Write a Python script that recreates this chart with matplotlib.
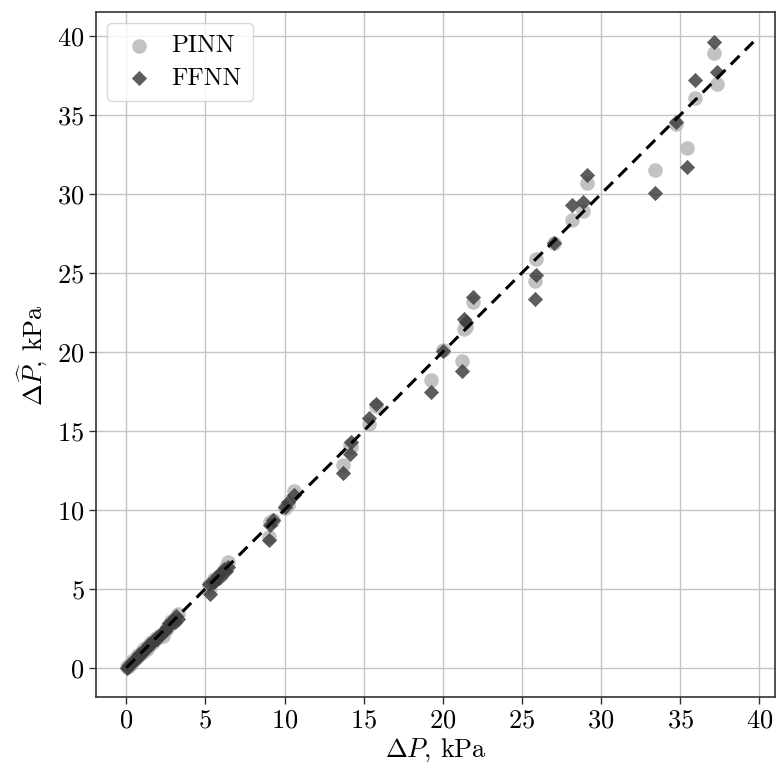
import matplotlib.pyplot as plt
import numpy as np

# valeurs (kPa)
dp_true = [37.12, 37.29, 35.94, 34.75, 35.42, 33.38, 29.08, 28.85, 28.17, 27.00,
           25.88, 25.84, 21.93, 21.34, 21.46, 20.03, 21.18, 19.27, 15.78, 15.35,
           14.20, 14.14, 13.72, 10.58, 10.20, 10.00, 9.30, 9.05, 9.00,
           6.45, 6.30, 6.15, 6.00, 5.85, 5.70, 5.55, 5.45, 5.30, 5.20,
           3.25, 3.15, 3.05, 2.95, 2.85, 2.70, 2.60, 2.45, 2.35,
           2.15, 2.05, 1.95, 1.85, 1.75, 1.65, 1.55, 1.45, 1.35, 1.28, 1.20,
           1.12, 1.05, 0.98, 0.90, 0.83, 0.75, 0.68, 0.60, 0.52, 0.45, 0.38,
           0.30, 0.22, 0.15, 0.08, 0.02]
pinn_pred = [38.94, 36.95, 36.10, 34.42, 32.92, 31.52, 30.68, 28.92, 28.32, 26.90,
             25.86, 24.51, 23.18, 21.44, 21.60, 20.12, 19.40, 18.20, 16.60, 15.40,
             14.00, 14.10, 12.85, 11.20, 10.30, 10.10, 9.32, 9.20, 8.30,
             6.72, 6.35, 6.20, 5.90, 5.80, 5.65, 5.60, 5.50, 5.05, 5.25,
             3.40, 3.20, 3.05, 2.90, 2.95, 2.70, 2.50, 2.30, 2.00,
             2.10, 1.95, 1.90, 1.85, 1.70, 1.55, 1.60, 1.40, 1.40, 1.20, 1.25,
             1.05, 1.10, 0.95, 0.95, 0.80, 0.80, 0.65, 0.62, 0.55, 0.40, 0.42,
             0.25, 0.25, 0.12, 0.10, 0.05]
ffnn_pred = [39.62, 37.72, 37.22, 34.52, 31.68, 30.04, 31.18, 29.50, 29.30, 26.88,
             24.87, 23.37, 23.45, 22.10, 21.90, 20.08, 18.80, 17.45, 16.70, 15.80,
             14.26, 13.50, 12.30, 10.95, 10.50, 10.20, 9.35, 9.05, 8.06,
             6.40, 6.10, 6.25, 6.00, 5.70, 5.80, 5.45, 5.40, 4.65, 5.30,
             3.10, 3.25, 2.90, 3.00, 2.75, 2.80, 2.55, 2.35, 2.25,
             2.05, 2.00, 1.80, 1.90, 1.75, 1.60, 1.50, 1.50, 1.30, 1.30, 1.15,
             1.15, 1.00, 1.00, 0.85, 0.85, 0.70, 0.70, 0.55, 0.50, 0.45, 0.35,
             0.30, 0.20, 0.15, 0.05, -0.05]

plt.rcParams['font.family'] = 'serif'
plt.rcParams['font.serif'] = ['cmr10']
plt.rcParams['mathtext.fontset'] = 'cm'
plt.rcParams['axes.formatter.use_mathtext'] = True

fig = plt.figure(figsize=(7.76, 7.65), dpi=100)
ax = fig.add_axes([0.124, 0.089, 0.875, 0.895])

ax.grid(True, color='#c4c4c4', linewidth=1.0, zorder=0)
ax.set_axisbelow(True)

ax.scatter(dp_true, pinn_pred, s=110, marker='o', color='#bcbcbc', alpha=0.9,
           linewidths=0, label='PINN', zorder=2)
ax.scatter(dp_true, ffnn_pred, s=60, marker='D', color='#404040', alpha=0.85,
           linewidths=0, label='FFNN', zorder=3)

# droite y = x
hi = max(max(dp_true), max(pinn_pred), max(ffnn_pred))
ax.plot([0, hi], [0, hi], color='black', linestyle='--', linewidth=2.2,
        dashes=(4, 2.5), zorder=4)

ax.set_xlim(-1.9, 41.0)
ax.set_ylim(-1.85, 41.5)
ax.set_xticks(np.arange(0, 41, 5))
ax.set_yticks(np.arange(0, 41, 5))
ax.tick_params(labelsize=19, length=5, width=1.0, color='#333333')
for s in ax.spines.values():
    s.set_color('#333333')
    s.set_linewidth(1.2)

ax.set_xlabel(r'$\Delta P$, kPa', fontsize=19, labelpad=3)
ax.set_ylabel(r'$\Delta \widehat{P}$, kPa', fontsize=19, labelpad=5)

ax.legend(loc='upper left', fontsize=18, frameon=True, fancybox=True,
          edgecolor='#d0d0d0', handletextpad=0.5, borderpad=0.45,
          labelspacing=0.4, handlelength=1.6, borderaxespad=0.45)

plt.savefig('out.png', dpi=100)
plt.close()
